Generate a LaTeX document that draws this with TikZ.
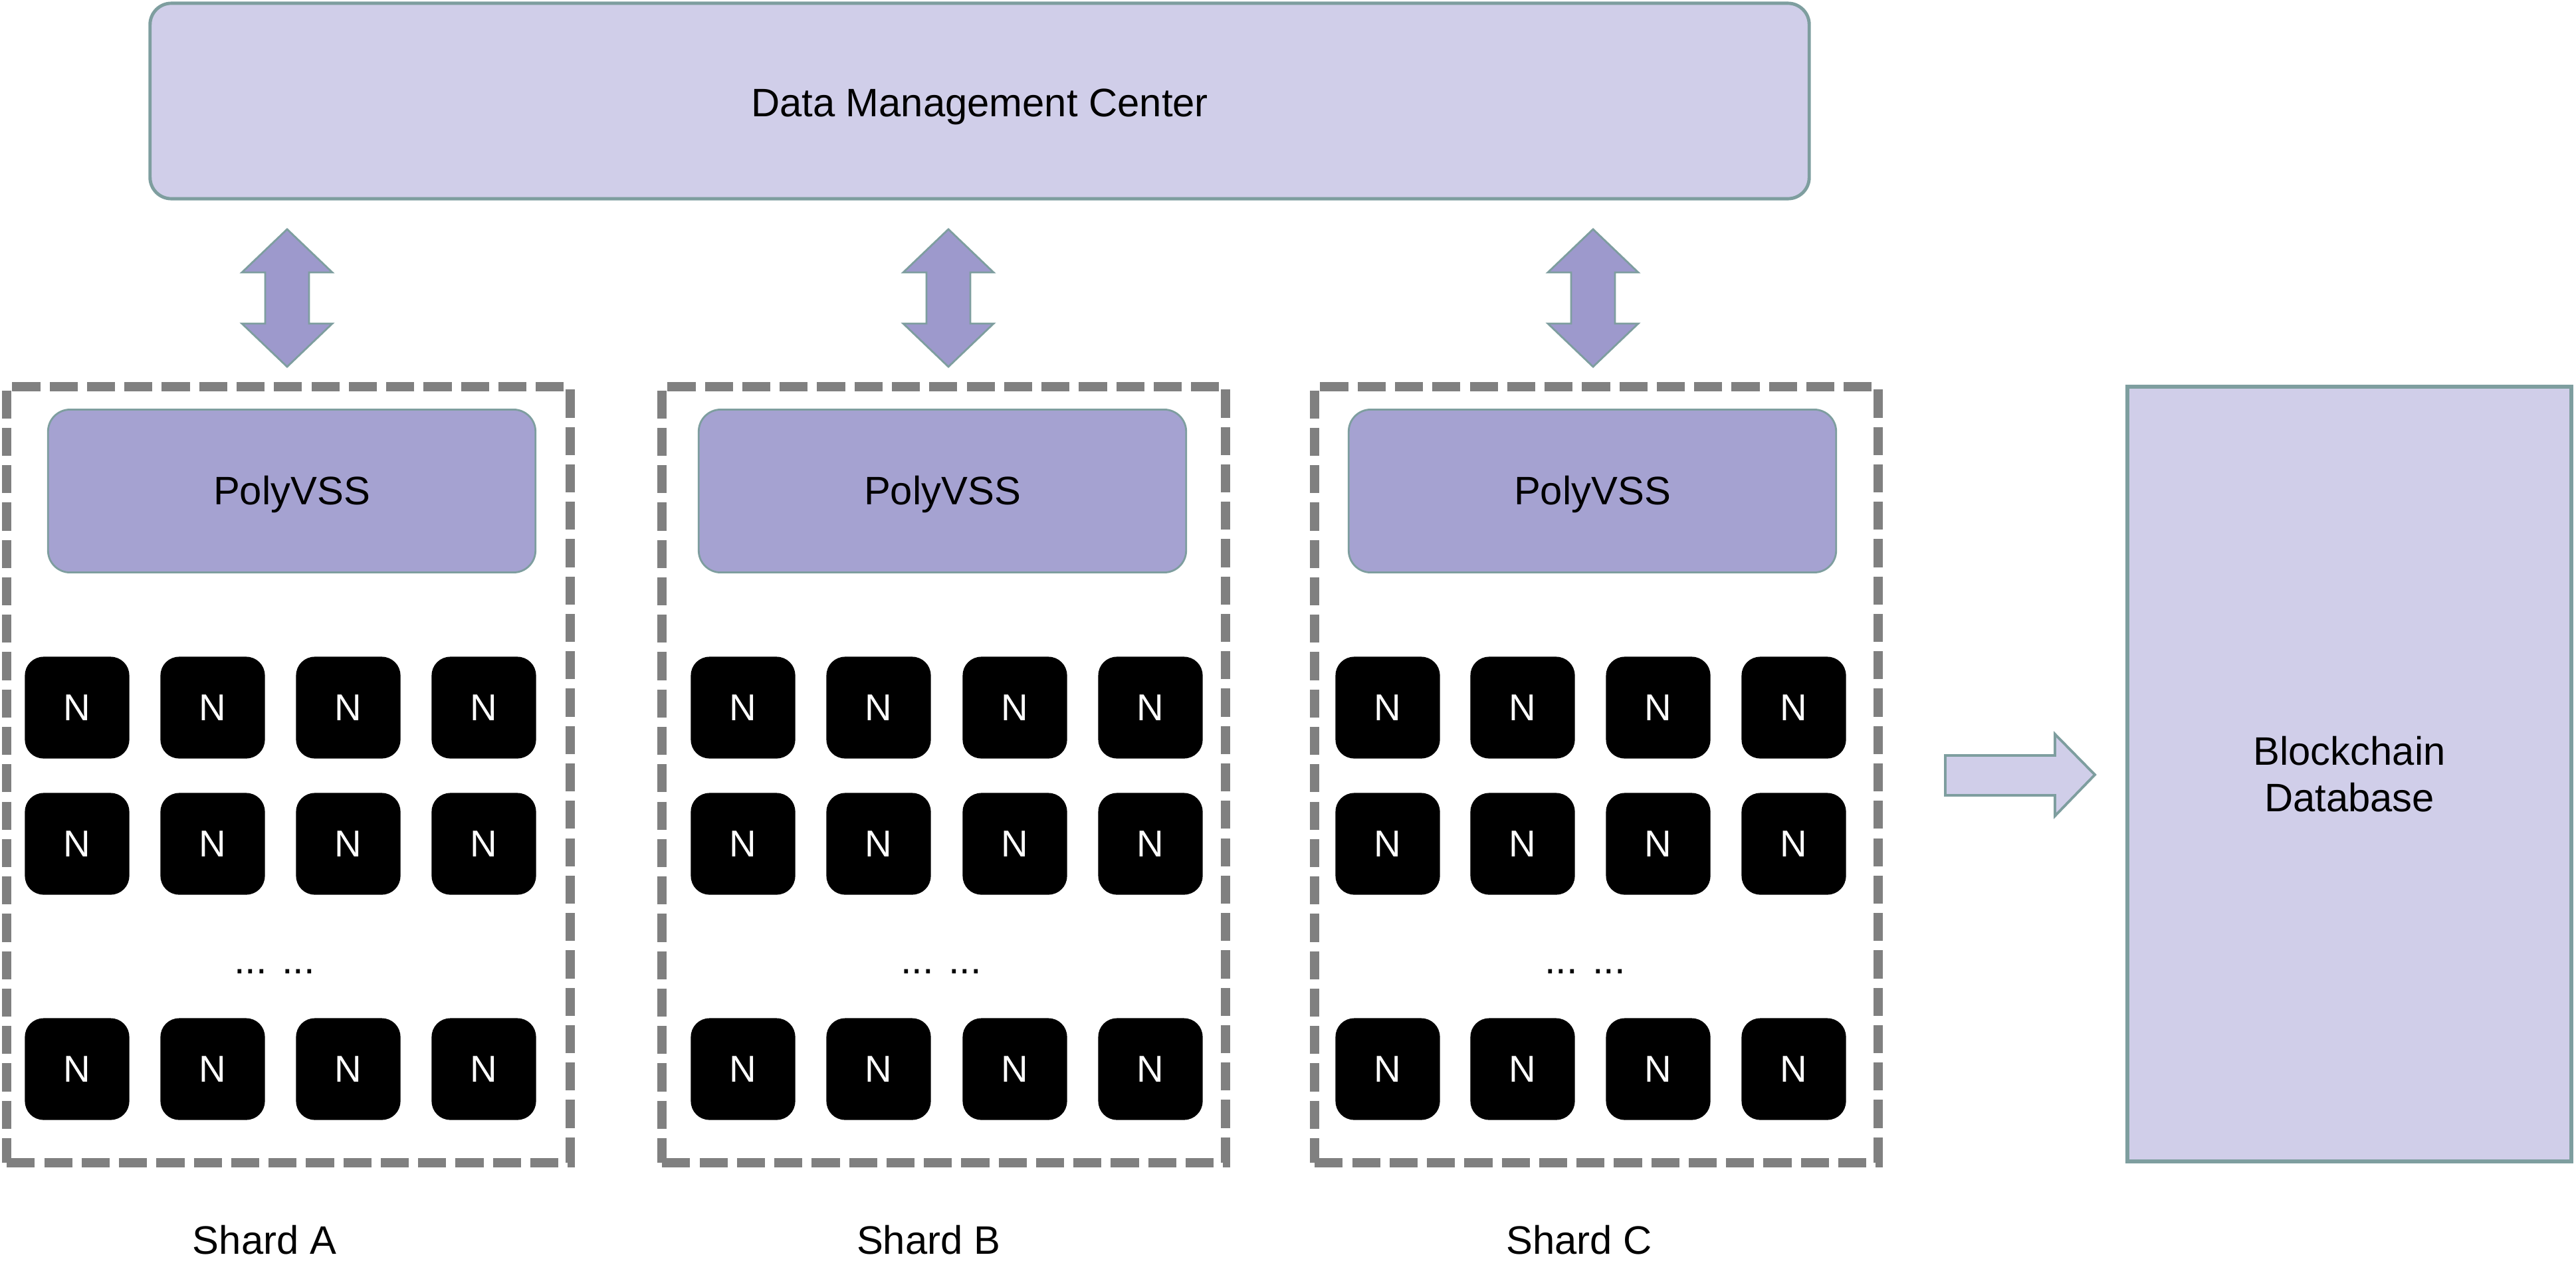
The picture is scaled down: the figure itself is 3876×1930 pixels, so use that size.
\documentclass[tikz,border=0pt]{standalone}
\usepackage{fontspec}
\setmainfont{Liberation Sans}
\definecolor{lightlav}{HTML}{D0CEE9}
\definecolor{polyfill}{HTML}{A5A2D1}
\definecolor{arrowfill}{HTML}{9D99CC}
\definecolor{tealgray}{HTML}{7E9E9F}
\definecolor{dashgray}{HTML}{808080}
\begin{document}
\begin{tikzpicture}[x=0.01cm,y=-0.01cm,
  txt/.style={font=\fontsize{17}{19}\selectfont, text=black},
  topbox/.style={draw=tealgray, line width=1.4pt, fill=lightlav, rounded corners=0.32cm,
    minimum width=24.95cm, minimum height=2.94cm, inner sep=0pt, txt,
    text height=0.59cm, text depth=0.13cm},
  shardbox/.style={draw=dashgray, line width=4pt, dash pattern=on 12pt off 4pt,
    minimum width=8.47cm, minimum height=11.68cm, inner sep=0pt},
  polybox/.style={draw=tealgray, line width=0.8pt, fill=polyfill, rounded corners=0.33cm,
    minimum width=7.33cm, minimum height=2.45cm, inner sep=0pt, txt,
    text height=0.54cm, text depth=0.13cm},
  nbox/.style={fill=black, rounded corners=0.28cm, minimum width=1.57cm,
    minimum height=1.53cm, inner sep=0pt, text=white, font=\fontsize{16}{18}\selectfont},
  dbbox/.style={draw=tealgray, line width=1.7pt, fill=lightlav,
    minimum width=6.68cm, minimum height=11.65cm, inner sep=0pt, txt, align=center},
  darrow/.style={draw=tealgray, line width=0.8pt, fill=arrowfill},
  rarrow/.style={draw=tealgray, line width=1.1pt, fill=lightlav},
  lbl/.style={txt}
]
\useasboundingbox (0,0) rectangle (3876,1930);

% top box
\node[topbox] (dmc) at (1474,152) {Data Management Center};

% shards
\node[shardbox] (shA) at (434,1166) {};
\node[shardbox] (shB) at (1420,1166) {};
\node[shardbox] (shC) at (2402,1166) {};

% PolyVSS
\node[polybox] (pA) at (439,739) {PolyVSS};
\node[polybox] (pB) at (1418,739) {PolyVSS};
\node[polybox] (pC) at (2396,739) {PolyVSS};

% N nodes
\foreach \s/\xa/\xb/\xc/\xd in {A/116/320/524/728, B/1118/1322/1527/1731, C/2088/2291/2495/2699}{
  \foreach \r/\y in {1/1065, 2/1270, 3/1609}{
    \node[nbox] (n\s\r a) at (\xa,\y) {N};
    \node[nbox] (n\s\r b) at (\xb,\y) {N};
    \node[nbox] (n\s\r c) at (\xc,\y) {N};
    \node[nbox] (n\s\r d) at (\xd,\y) {N};
  }
}

% dots
\node[txt] (dA) at (413,1462) {... ...};
\node[txt] (dB) at (1416,1462) {... ...};
\node[txt] (dC) at (2385,1462) {... ...};

% shard labels
\node[lbl] (lA) at (398,1866) {Shard A};
\node[lbl] (lB) at (1397,1866) {Shard B};
\node[lbl] (lC) at (2376,1866) {Shard C};

% double arrows
\foreach \cx in {432,1427,2397}{
  \draw[darrow] (\cx,345) -- (\cx+68,410) -- (\cx+33,410) -- (\cx+33,487) -- (\cx+68,487)
    -- (\cx,552) -- (\cx-68,487) -- (\cx-33,487) -- (\cx-33,410) -- (\cx-68,410) -- cycle;
}

% blockchain database
\node[dbbox] (db) at (3535,1165) {Blockchain\\[1pt]Database};

% right arrow
\draw[rarrow] (2927,1137) -- (3092,1137) -- (3092,1105) -- (3152,1166)
  -- (3092,1228) -- (3092,1197) -- (2927,1197) -- cycle;
\end{tikzpicture}
\end{document}
